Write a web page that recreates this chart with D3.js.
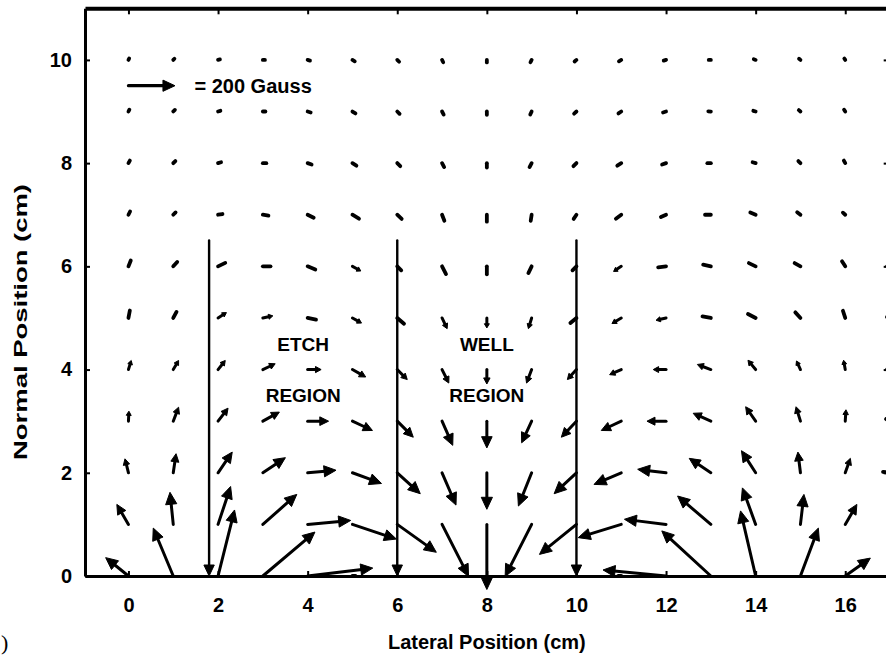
<!DOCTYPE html>
<html><head><meta charset="utf-8">
<script src="https://cdn.jsdelivr.net/npm/d3@7/dist/d3.min.js"></script>
<style>body{margin:0;background:#fff;} svg{display:block;}</style>
</head><body><svg id="c" width="886" height="660"></svg>
<script>
// ---------------- data ----------------
const xGrid = [0,1,2,3,4,5,6,7,8,9,10,11,12,13,14,15,16,17];
const yGrid = [0,1,2,3,4,5,6,7,8,9,10];
// Field components in Gauss, one row per normal position (y = 0 .. 10)
const bx = [
  [-98,-86,71,224,280,13,0,0,0,0,0,-13,-271,-211,-65,77,108,40],
  [-50,-14,54,146,185,189,168,114,0,-114,-159,-185,-179,-143,-57,15,50,20],
  [-15,12,61,97,122,125,99,60,0,-57,-96,-117,-122,-93,-61,-11,22,-30],
  [2,23,43,71,90,86,69,46,0,-43,-65,-86,-82,-76,-43,-19,3,-17],
  [12,23,31,53,58,57,43,29,0,-22,-39,-50,-55,-58,-33,-17,-7,-13],
  [6,14,36,43,36,39,29,22,0,-14,-26,-40,-43,-36,-33,-22,-10,-13],
  [10,17,31,33,33,36,17,17,0,-14,-17,-33,-34,-33,-29,-25,-14,-13],
  [7,10,19,24,26,28,19,10,0,-4,-12,-23,-22,-25,-23,-14,-10,-9],
  [6,9,13,15,17,17,13,9,0,-9,-13,-17,-17,-15,-13,-9,-6,-6],
  [4,7,10,11,13,13,10,7,0,-6,-10,-12,-13,-11,-10,-7,-5,-5],
  [3,5,8,9,10,10,8,5,0,-5,-8,-10,-10,-9,-8,-6,-4,-4]
];
const by = [
  [79,206,284,189,34,0,0,0,0,0,0,0,26,194,280,206,77,30],
  [86,138,163,129,17,-63,-120,-224,-280,-224,-129,-57,22,122,157,129,86,30],
  [60,82,89,65,11,-46,-90,-139,-157,-143,-90,-50,15,62,95,89,62,4],
  [43,60,56,39,0,-40,-69,-104,-115,-93,-69,-40,0,34,62,62,49,9],
  [39,39,39,25,0,-32,-43,-58,-62,-58,-43,-22,0,22,40,37,40,0],
  [32,26,23,9,-7,-22,-25,-46,-43,-46,-22,-24,-10,7,17,24,31,4],
  [25,19,15,0,-14,-20,-17,-33,-34,-29,-17,-22,-4,7,14,14,22,0],
  [14,10,3,-4,-13,-17,-18,-26,-30,-26,-18,-17,-10,0,10,11,9,0],
  [11,9,4,0,-6,-11,-13,-17,-19,-17,-13,-11,-6,0,4,9,11,0],
  [8,7,3,0,-4,-8,-10,-13,-14,-13,-9,-8,-4,1,3,6,8,0],
  [6,5,2,0,-3,-6,-8,-10,-11,-10,-7,-6,-3,0,3,5,6,0]
];
const xTicks = [0,2,4,6,8,10,12,14,16];
const yTicks = [0,2,4,6,8,10];
const walls = [1.8, 6, 10];
const wallTop = 6.5;
const legendGauss = 200;
const legendText = "= 200 Gauss";
const regionText = [["ETCH","REGION"],["WELL","REGION"]];
const xTitle = "Lateral Position (cm)";
const yTitle = "Normal Position (cm)";
const panelMark = ")";

// ---------------- scales ----------------
const X = d3.scaleLinear().domain([-0.97, 16.97]).range([85, 888.7]);
const Y = d3.scaleLinear().domain([0, 11]).range([576, 8.3]);
const M = d3.scaleLinear().domain([0, legendGauss]).range([0, 46.5]); // Gauss -> px

const svg = d3.select("#c");
const FONT = "'Liberation Sans', Arial, Helvetica, sans-serif";

// ---------------- arrows ----------------
const gv = svg.append("g");
function drawArrow(g, x0, y0, x1, y1, sw, hmax) {
  const dx = x1 - x0, dy = y1 - y0;
  const L = Math.hypot(dx, dy);
  if (L < 0.01) return;
  const ux = dx / L, uy = dy / L;
  const h = Math.min(hmax || 12, L * 0.42);
  const w = h * 0.4 + 0.8;
  const bxp = x1 - ux * h, byp = y1 - uy * h;
  const small = L < 9;
  g.append("line")
    .attr("x1", x0).attr("y1", y0)
    .attr("x2", small ? x1 : bxp + ux * 1).attr("y2", small ? y1 : byp + uy * 1)
    .attr("stroke", "#000").attr("stroke-width", small ? 3.8 : sw)
    .attr("stroke-linecap", "round");
  if (!small) {
    g.append("path")
      .attr("d", `M${x1},${y1}L${bxp - uy * w},${byp + ux * w}L${bxp + uy * w},${byp - ux * w}Z`)
      .attr("fill", "#000").attr("stroke", "#000").attr("stroke-width", 1)
      .attr("stroke-linejoin", "round");
  }
}
yGrid.forEach((yv, r) => {
  xGrid.forEach((xv, c) => {
    const x0 = X(xv), y0 = Y(yv);
    drawArrow(gv, x0, y0, x0 + M(bx[r][c]), y0 - M(by[r][c]), 3);
  });
});

// walls with arrowheads at the bottom
walls.forEach(w => {
  drawArrow(gv, X(w), Y(wallTop), X(w), Y(0), 2.4, 11);
});

// ---------------- axes / frame ----------------
const axStyle = g => {
  g.selectAll("path.domain").attr("stroke", "#000").attr("stroke-width", 3);
  g.selectAll(".tick line").attr("stroke", "#000").attr("stroke-width", 2);
  g.selectAll("text").attr("font-family", FONT).attr("font-weight", "bold")
    .attr("font-size", 20).attr("fill", "#000");
};
svg.append("g").attr("transform", `translate(0,${Y(0)})`)
  .call(d3.axisBottom(X).tickValues(xTicks).tickSize(-5).tickSizeOuter(0).tickPadding(21.5))
  .call(axStyle);
svg.append("g").attr("transform", `translate(0,${Y(11)})`)
  .call(d3.axisTop(X).tickValues(xTicks).tickSize(-6).tickSizeOuter(0).tickFormat(""))
  .call(axStyle)
  .call(g => g.select("path.domain").attr("stroke-width", 4));
svg.append("g").attr("transform", `translate(${X(-0.97)},0)`)
  .call(d3.axisLeft(Y).tickValues(yTicks).tickSize(-5).tickSizeOuter(0).tickPadding(13))
  .call(axStyle);
svg.append("g").attr("transform", `translate(${X(16.97)},0)`)
  .call(d3.axisRight(Y).tickValues(yTicks).tickSize(-5).tickSizeOuter(0).tickFormat(""))
  .call(axStyle);

// ---------------- legend ----------------
const lx = X(0), ly = Y(9.5);
drawArrow(svg, lx, ly, lx + M(legendGauss), ly, 3.2);
svg.append("text").attr("x", lx + 66).attr("y", ly + 7)
  .attr("font-family", FONT).attr("font-weight", "bold").attr("font-size", 20).attr("fill", "#000")
  .text(legendText);

// ---------------- region labels ----------------
const regionX = [3.9, 8];
regionText.forEach((lines, i) => {
  lines.forEach((t, j) => {
    svg.append("text").attr("x", X(regionX[i])).attr("y", Y(4.5) + 7 + j * 51)
      .attr("text-anchor", "middle").attr("font-family", FONT)
      .attr("font-weight", "bold").attr("font-size", 19).attr("fill", "#000")
      .text(t);
  });
});

// ---------------- titles ----------------
svg.append("text").attr("x", X(8)).attr("y", 649)
  .attr("text-anchor", "middle").attr("font-family", FONT)
  .attr("font-weight", "bold").attr("font-size", 20).text(xTitle);
svg.append("text").attr("transform", `translate(27,${322}) rotate(-90)`)
  .attr("text-anchor", "middle").attr("font-family", FONT)
  .attr("font-weight", "bold").attr("font-size", 19)
  .attr("textLength", 276).attr("lengthAdjust", "spacingAndGlyphs").text(yTitle);
svg.append("text").attr("x", 1).attr("y", 650)
  .attr("font-family", "'Liberation Serif', 'Times New Roman', serif")
  .attr("font-size", 22).text(panelMark);
</script>
</body></html>
